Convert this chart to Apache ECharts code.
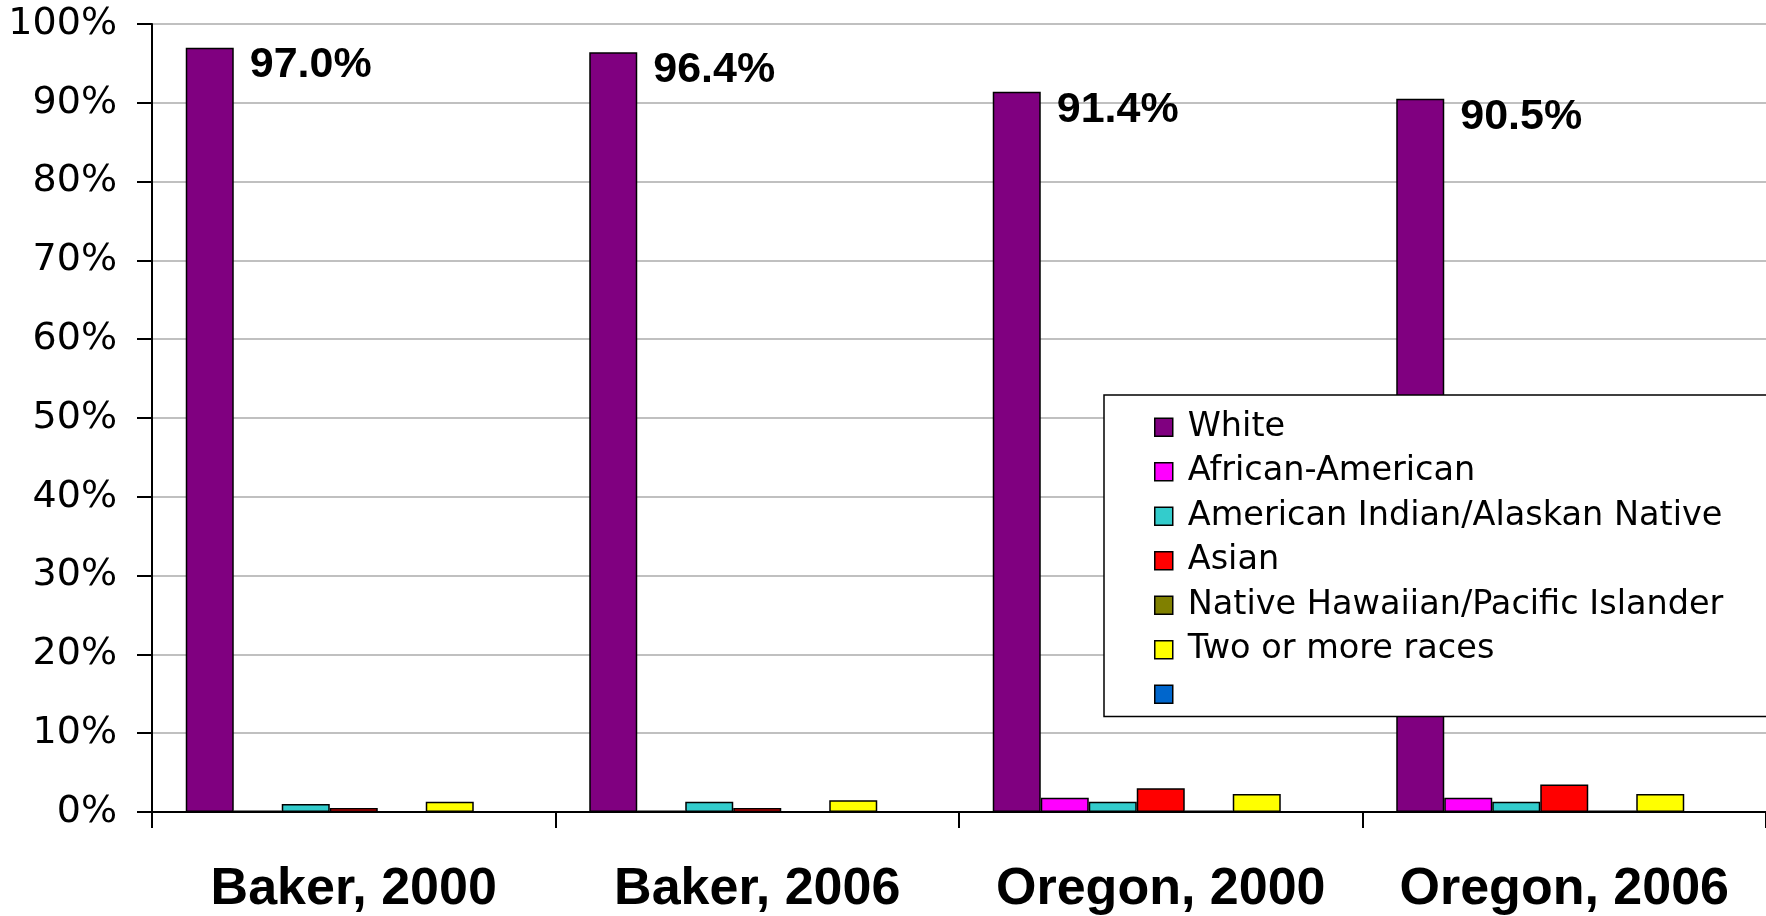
<!DOCTYPE html>
<html>
<head>
<meta charset="utf-8">
<script src="https://cdn.jsdelivr.net/npm/echarts@6/dist/echarts.min.js"></script>
<style>
html,body{margin:0;padding:0;background:#fff;}
#chart{width:1766px;height:916px;}
</style>
</head>
<body>
<div id="chart"></div>
<script>
const categories = ['Baker, 2000', 'Baker, 2006', 'Oregon, 2000', 'Oregon, 2006'];
const seriesNames = ['White', 'African-American', 'American Indian/Alaskan Native', 'Asian', 'Native Hawaiian/Pacific Islander', 'Two or more races', ' '];
const white = [97.0, 96.4, 91.4, 90.5];
const africanAmerican = [0.2, 0.2, 1.8, 1.8];
const americanIndian = [1.0, 1.3, 1.3, 1.3];
const asian = [0.5, 0.5, 3.0, 3.5];
const nativeHawaiian = [0, 0, 0.2, 0.2];
const twoOrMore = [1.3, 1.5, 2.3, 2.3];
const unnamed = [0, 0, 0, 0];
const yTicks = [0, 10, 20, 30, 40, 50, 60, 70, 80, 90, 100];

const colors = ['#800080', '#FF00FF', '#33CCCC', '#FF0000', '#808000', '#FFFF00', '#0066CC'];
const values = [white, africanAmerican, americanIndian, asian, nativeHawaiian, twoOrMore, unnamed];

const chart = echarts.init(document.getElementById('chart'));

const series = seriesNames.map((name, i) => ({
  name: name,
  type: 'bar',
  data: values[i],
  barWidth: 48,
  barGap: '0%',
  itemStyle: { color: colors[i], borderColor: '#000', borderWidth: 1.5 },
  label: i === 0 ? {
    show: true,
    position: [64, 18],
    align: 'left',
    verticalAlign: 'middle',
    formatter: p => p.value.toFixed(1) + '%',
    fontFamily: 'Liberation Sans',
    fontWeight: 'bold',
    fontSize: 43,
    color: '#000'
  } : { show: false },
  emphasis: { disabled: true }
}));

chart.setOption({
  animation: false,
  backgroundColor: '#fff',
  grid: { left: 152, right: 0, top: 24, bottom: 104 },
  xAxis: {
    type: 'category',
    data: categories,
    axisLine: { lineStyle: { color: '#000', width: 2 } },
    axisTick: { show: true, length: 16, lineStyle: { color: '#000', width: 2 } },
    axisLabel: {
      interval: 0,
      margin: 52,
      fontFamily: 'Liberation Sans',
      fontWeight: 'bold',
      fontSize: 52,
      color: '#000'
    }
  },
  yAxis: {
    type: 'value',
    min: yTicks[0],
    max: yTicks[yTicks.length - 1],
    interval: 10,
    axisLine: { show: true, lineStyle: { color: '#000', width: 2 } },
    axisTick: { show: true, length: 15, lineStyle: { color: '#000', width: 2 } },
    splitLine: { lineStyle: { color: '#c0c0c0', width: 2 } },
    axisLabel: {
      formatter: '{value}%',
      margin: 35,
      fontFamily: 'DejaVu Sans',
      fontSize: 38,
      color: '#000'
    }
  },
  legend: {
    orient: 'vertical',
    left: 1104,
    top: 395,
    data: seriesNames,
    icon: 'rect',
    itemWidth: 18,
    itemHeight: 18,
    itemGap: 0,
    selectedMode: false,
    backgroundColor: '#fff',
    borderColor: '#000',
    borderWidth: 1.5,
    padding: [10, 240, 0, 50],
    itemStyle: { borderColor: '#000', borderWidth: 1.5 },
    textStyle: {
      fontFamily: 'DejaVu Sans',
      fontSize: 33.5,
      lineHeight: 44.5,
      padding: [0, 0, 0, 10],
      color: '#000'
    }
  },
  series: series
});
</script>
</body>
</html>
